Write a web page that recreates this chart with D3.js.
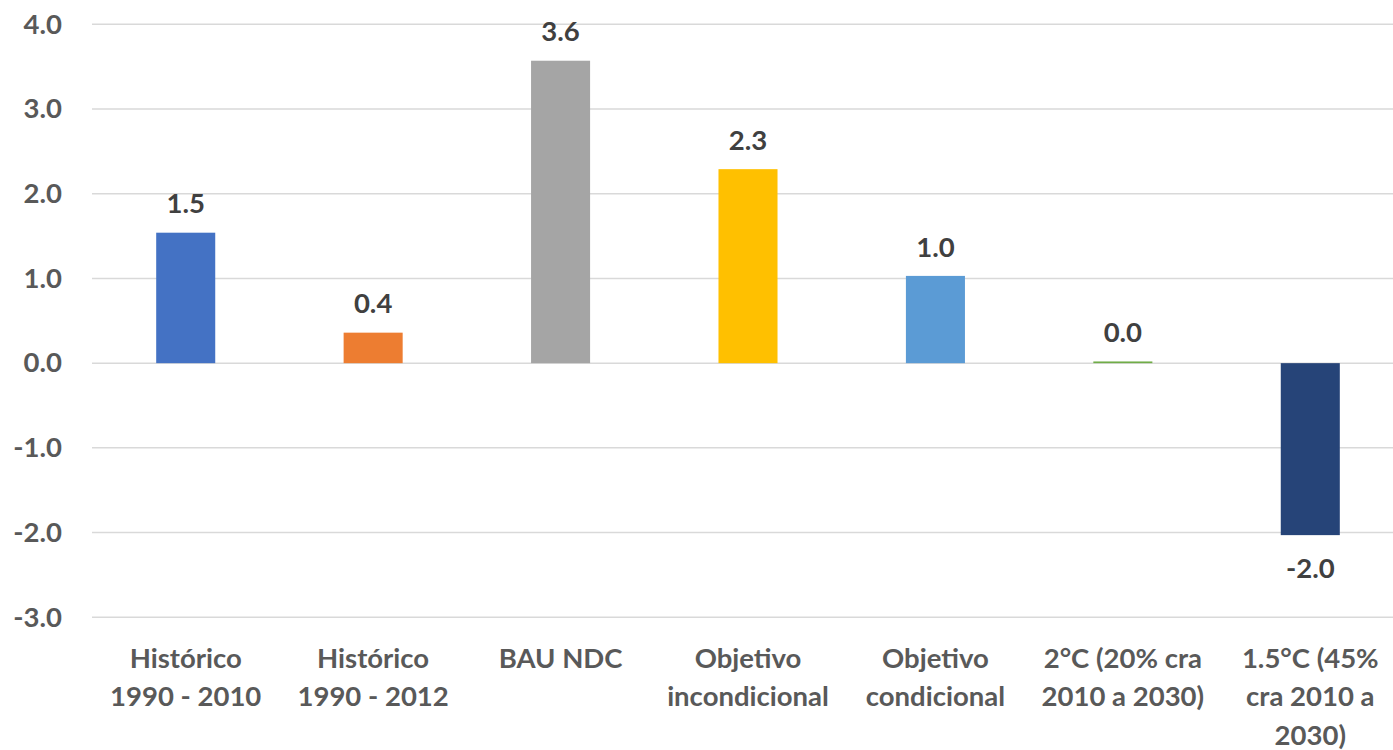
<!DOCTYPE html>
<html><head><meta charset="utf-8">
<script src="https://cdn.jsdelivr.net/npm/d3@7"></script>
<style>body{margin:0;background:#fff}svg{display:block}</style>
</head><body>
<svg id="c" width="1393" height="750"></svg>
<script>
const categories = [["Histórico","1990 - 2010"],["Histórico","1990 - 2012"],["BAU NDC"],["Objetivo","incondicional"],["Objetivo","condicional"],["2°C (20% cra","2010 a 2030)"],["1.5°C (45%","cra 2010 a","2030)"]];
const values = [1.54, 0.36, 3.57, 2.29, 1.03, 0.02, -2.03];
const valueLabels = ["1.5","0.4","3.6","2.3","1.0","0.0","-2.0"];
const colors = ["#4472C4","#ED7D31","#A5A5A5","#FFC000","#5B9BD5","#70AD47","#264478"];
const yTicks = [-3,-2,-1,0,1,2,3,4];

const svg = d3.select("#c");
const font = "Lato, 'Open Sans', sans-serif";
const fs = 27.5;
const x = d3.scaleBand().domain(d3.range(categories.length)).range([92,1404]).paddingInner(0.685).paddingOuter(0.3425);
const y = d3.scaleLinear().domain([-3,4]).range([617.3,24.3]);

// gridlines
svg.append("g").selectAll("line").data(yTicks).join("line")
  .attr("x1",92).attr("x2",1393)
  .attr("y1",d=>y(d)).attr("y2",d=>y(d))
  .attr("stroke","#D9D9D9").attr("stroke-width",1.5);

// y axis labels
const yAxis = d3.axisLeft(y).tickValues(yTicks).tickFormat(d=>d.toFixed(1)).tickSize(0).tickPadding(0);
const ga = svg.append("g").attr("transform","translate(62,0)").call(yAxis);
ga.select(".domain").remove();
ga.selectAll("text").attr("font-family",font).attr("font-weight","bold").attr("font-size",fs).attr("fill","#595959");

// bars
svg.append("g").selectAll("rect").data(values).join("rect")
  .attr("x",(d,i)=>x(i)).attr("width",x.bandwidth())
  .attr("y",d=>y(Math.max(0,d))).attr("height",d=>Math.abs(y(d)-y(0)))
  .attr("fill",(d,i)=>colors[i]);

// value labels
svg.append("g").selectAll("text").data(values).join("text")
  .attr("x",(d,i)=>x(i)+x.bandwidth()/2)
  .attr("y",d=> d>=0 ? y(d)-29 : y(d)+33)
  .attr("dy","0.35em")
  .attr("text-anchor","middle")
  .attr("font-family",font).attr("font-weight","bold").attr("font-size",fs).attr("fill","#404040")
  .text((d,i)=>valueLabels[i]);

// category labels
const cg = svg.append("g").selectAll("text").data(categories).join("text")
  .attr("x",(d,i)=>x(i)+x.bandwidth()/2)
  .attr("y",658)
  .attr("text-anchor","middle")
  .attr("font-family",font).attr("font-weight","bold").attr("font-size",fs).attr("fill","#595959");
cg.selectAll("tspan").data(d=>d).join("tspan")
  .attr("x",function(){return this.parentNode.getAttribute("x");})
  .attr("dy",(d,i)=> i===0 ? "0.35em" : "38.5")
  .text(d=>d);
</script>
</body></html>
